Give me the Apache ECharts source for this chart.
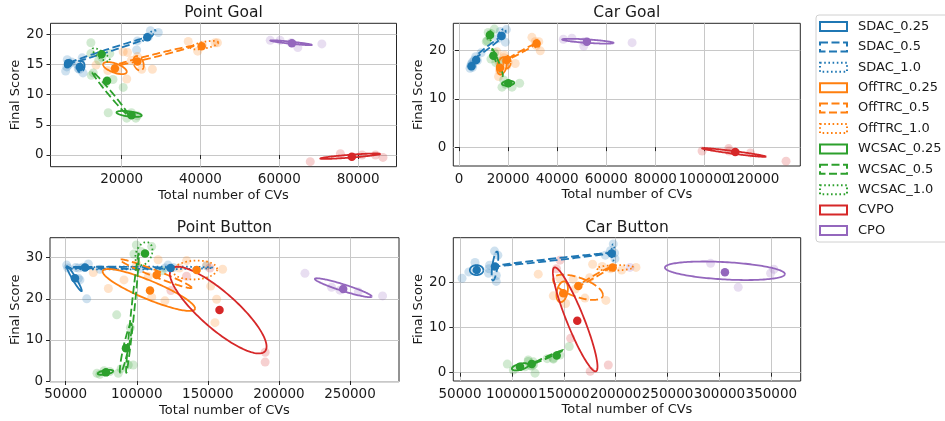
<!DOCTYPE html>
<html><head><meta charset="utf-8">
<script src="https://cdn.jsdelivr.net/npm/echarts@6/dist/echarts.min.js"></script>
<style>html,body{margin:0;padding:0;background:#fff}#c{width:945px;height:421px}</style>
</head><body><div id="c"></div>
<script>
// ---------- configuration names ----------
const configs = ['SDAC_0.25','SDAC_0.5','SDAC_1.0','OffTRC_0.25','OffTRC_0.5','OffTRC_1.0','WCSAC_0.25','WCSAC_0.5','WCSAC_1.0','CVPO','CPO'];
const panelTitles = ['Point Goal','Car Goal','Point Button','Car Button'];
const xAxisTitle = 'Total number of CVs';
const yAxisTitle = 'Final Score';

// ---------- axis ranges & ticks ----------
const pointGoalXRange = [1957, 89733];   const pointGoalYRange = [-1.94, 21.82];
const carGoalXRange = [-2320, 139000];   const carGoalYRange = [-3.9, 25.6];
const pointButtonXRange = [38960, 284460]; const pointButtonYRange = [-0.17, 34.87];
const carButtonXRange = [43545, 378320]; const carButtonYRange = [-1.84, 29.87];
const pointGoalXTicks = [20000, 40000, 60000, 80000];
const pointGoalYTicks = [0, 5, 10, 15, 20];
const carGoalXTicks = [0, 20000, 40000, 60000, 80000, 100000, 120000];
const carGoalYTicks = [0, 10, 20];
const pointButtonXTicks = [50000, 100000, 150000, 200000, 250000];
const pointButtonYTicks = [0, 10, 20, 30];
const carButtonXTicks = [50000, 100000, 150000, 200000, 250000, 300000, 350000];
const carButtonYTicks = [0, 10, 20];

// ---------- Point Goal ----------
const pointGoalSeeds = [
  ['SDAC_0.25',5800,13.9],['SDAC_0.25',6200,15.8],['SDAC_0.25',6600,15.0],['SDAC_0.25',7300,15.4],['SDAC_0.25',6100,14.6],
  ['SDAC_0.5',10000,16.1],['SDAC_0.5',10200,13.6],['SDAC_0.5',9000,14.3],['SDAC_0.5',8700,15.0],['SDAC_0.5',9300,14.2],
  ['SDAC_1.0',23800,17.4],['SDAC_1.0',24000,18.9],['SDAC_1.0',27300,20.6],['SDAC_1.0',29300,20.3],['SDAC_1.0',26800,19.6],
  ['OffTRC_0.25',13500,14.9],['OffTRC_0.25',16500,14.0],['OffTRC_0.25',19000,14.0],['OffTRC_0.25',21300,12.6],['OffTRC_0.25',20400,17.1],
  ['OffTRC_0.5',22500,15.7],['OffTRC_0.5',25100,14.2],['OffTRC_0.5',27800,14.2],['OffTRC_0.5',24000,16.3],['OffTRC_0.5',21500,17.0],
  ['OffTRC_1.0',36900,18.8],['OffTRC_1.0',39300,17.2],['OffTRC_1.0',40500,18.2],['OffTRC_1.0',43700,18.6],['OffTRC_1.0',44300,18.6],
  ['WCSAC_0.25',16600,7.0],['WCSAC_0.25',21300,6.1],['WCSAC_0.25',23600,6.1],['WCSAC_0.25',22500,7.0],['WCSAC_0.25',24000,6.5],
  ['WCSAC_0.5',12300,13.2],['WCSAC_0.5',12800,13.6],['WCSAC_0.5',17800,12.5],['WCSAC_0.5',20400,11.2],['WCSAC_0.5',16000,12.0],
  ['WCSAC_1.0',12200,18.6],['WCSAC_1.0',12200,16.8],['WCSAC_1.0',14200,15.7],['WCSAC_1.0',17000,16.8],['WCSAC_1.0',15000,16.2],
  ['CVPO',67850,-1.1],['CVPO',75500,0.2],['CVPO',81000,0.0],['CVPO',84400,0.0],['CVPO',86300,-0.4],
  ['CPO',57700,19.0],['CPO',60200,19.0],['CPO',64700,17.8],['CPO',70800,18.4],['CPO',63000,18.6]
];
const pointGoalMeans = [
  ['SDAC_0.25',6430,15.2],['SDAC_0.5',9400,14.6],['SDAC_1.0',26500,19.5],
  ['OffTRC_0.25',18300,14.35],['OffTRC_0.5',24000,15.5],['OffTRC_1.0',40300,18.0],
  ['WCSAC_0.25',22500,6.6],['WCSAC_0.5',16300,12.3],['WCSAC_1.0',14900,16.7],
  ['CVPO',78400,-0.3],['CPO',63200,18.5]
];
// [config, centreX, centreY, halfWidthX, halfHeightY, correlation]
const pointGoalEllipses = [
  ['SDAC_0.25',6500,15.1,900,0.6,0.4],
  ['SDAC_0.5',17000,17.4,11000,2.35,0.995],['SDAC_0.5',9700,14.6,900,0.9,0.2],
  ['SDAC_1.0',27000,19.8,1600,0.9,0.9],
  ['OffTRC_0.25',18300,14.4,3000,1.0,-0.6],
  ['OffTRC_0.5',28000,16.4,10300,1.7,0.99],['OffTRC_0.5',24300,15.2,1300,1.2,-0.3],
  ['OffTRC_1.0',41000,18.2,3500,0.7,0.6],
  ['WCSAC_0.25',21900,6.8,3200,0.5,-0.5],
  ['WCSAC_0.5',17100,10.2,4600,3.6,-0.99],
  ['WCSAC_1.0',14800,16.6,2200,1.1,-0.8],
  ['CVPO',78000,-0.2,7600,0.45,0.85],
  ['CPO',63000,18.6,5300,0.4,-0.9]
];

// ---------- Car Goal ----------
const carGoalSeeds = [
  ['SDAC_0.25',4500,16.3],['SDAC_0.25',5000,17.2],['SDAC_0.25',5500,16.5],['SDAC_0.25',4800,16.8],['SDAC_0.25',5600,17.0],
  ['SDAC_0.5',6200,18.0],['SDAC_0.5',6800,18.7],['SDAC_0.5',7500,17.9],['SDAC_0.5',5500,17.6],['SDAC_0.5',9000,19.5],
  ['SDAC_1.0',19300,24.3],['SDAC_1.0',18900,21.7],['SDAC_1.0',16800,23.9],['SDAC_1.0',17500,23.0],['SDAC_1.0',15800,22.4],
  ['OffTRC_0.25',15500,19.7],['OffTRC_0.25',16100,14.6],['OffTRC_0.25',17000,16.0],['OffTRC_0.25',18200,18.5],['OffTRC_0.25',16500,15.8],
  ['OffTRC_0.5',22900,17.3],['OffTRC_0.5',20000,17.5],['OffTRC_0.5',19500,16.8],['OffTRC_0.5',18500,19.0],['OffTRC_0.5',16000,17.8],
  ['OffTRC_1.0',29700,22.7],['OffTRC_1.0',33100,19.9],['OffTRC_1.0',31500,21.0],['OffTRC_1.0',32500,21.8],['OffTRC_1.0',31000,21.8],
  ['WCSAC_0.25',17500,12.4],['WCSAC_0.25',21600,12.4],['WCSAC_0.25',24700,13.2],['WCSAC_0.25',18200,13.9],['WCSAC_0.25',19000,13.0],
  ['WCSAC_0.5',13000,18.2],['WCSAC_0.5',11100,21.8],['WCSAC_0.5',14500,19.5],['WCSAC_0.5',15000,17.5],['WCSAC_0.5',16500,17.8],
  ['WCSAC_1.0',14400,24.4],['WCSAC_1.0',11900,23.7],['WCSAC_1.0',12500,22.8],['WCSAC_1.0',11500,22.0],['WCSAC_1.0',13000,23.5],
  ['CVPO',99000,-0.8],['CVPO',109800,-0.3],['CVPO',118700,-1.2],['CVPO',133200,-2.9],['CVPO',110000,-0.8],
  ['CPO',46000,22.5],['CPO',50800,20.9],['CPO',70500,21.6],['CPO',51000,21.8],['CPO',42500,22.3]
];
const carGoalMeans = [
  ['SDAC_0.25',5100,16.7],['SDAC_0.5',7000,18.0],['SDAC_1.0',17300,23.0],
  ['OffTRC_0.25',16700,16.4],['OffTRC_0.5',19400,18.0],['OffTRC_1.0',31600,21.4],
  ['WCSAC_0.25',20100,13.2],['WCSAC_0.5',14000,18.9],['WCSAC_1.0',12600,23.2],
  ['CVPO',112500,-1.0],['CPO',52100,21.8]
];
const carGoalEllipses = [
  ['SDAC_0.25',5100,16.8,900,0.5,0.5],
  ['SDAC_0.5',12300,20.8,5800,2.25,0.99],
  ['SDAC_1.0',17500,23.4,1500,1.0,0.5],
  ['OffTRC_0.25',17500,16.8,2000,1.8,0.3],
  ['OffTRC_0.5',25500,19.75,5450,1.55,0.99],['OffTRC_0.5',19500,17.6,1500,1.3,0.0],
  ['OffTRC_1.0',31700,21.3,1000,0.8,0.0],
  ['WCSAC_0.25',20000,13.2,2500,0.5,0.2],
  ['WCSAC_0.5',15700,17.5,2200,2.8,-0.97],
  ['WCSAC_1.0',12700,23.0,1100,1.0,0.3],
  ['CVPO',112000,-1.1,13000,0.9,-0.95],
  ['CPO',52500,21.9,10500,0.5,-0.7]
];

// ---------- Point Button ----------
const pointButtonSeeds = [
  ['SDAC_0.25',50700,28.2],['SDAC_0.25',58900,25.0],['SDAC_0.25',60000,24.6],['SDAC_0.25',64800,20.0],['SDAC_0.25',51500,27.5],
  ['SDAC_0.5',62000,27.7],['SDAC_0.5',65900,28.5],['SDAC_0.5',74100,27.2],['SDAC_0.5',59000,27.5],['SDAC_0.5',57000,27.6],
  ['SDAC_1.0',122000,28.2],['SDAC_1.0',125700,27.6],['SDAC_1.0',149000,28.0],['SDAC_1.0',120000,27.5],['SDAC_1.0',102000,27.3],
  ['OffTRC_0.25',69400,26.4],['OffTRC_0.25',91000,24.6],['OffTRC_0.25',110500,20.4],['OffTRC_0.25',119800,19.5],['OffTRC_0.25',155000,14.2],
  ['OffTRC_0.5',108100,25.4],['OffTRC_0.5',100000,28.5],['OffTRC_0.5',135100,29.3],['OffTRC_0.5',152000,23.1],['OffTRC_0.5',80000,22.5],
  ['OffTRC_1.0',149200,28.2],['OffTRC_1.0',160400,27.2],['OffTRC_1.0',156200,19.9],['OffTRC_1.0',130000,27.5],['OffTRC_1.0',115000,29.5],
  ['WCSAC_0.25',72000,1.9],['WCSAC_0.25',74000,1.6],['WCSAC_0.25',81000,2.3],['WCSAC_0.25',87000,1.9],['WCSAC_0.25',77000,2.5],
  ['WCSAC_0.5',85900,16.1],['WCSAC_0.5',94000,3.9],['WCSAC_0.5',97500,3.9],['WCSAC_0.5',95500,13.0],['WCSAC_0.5',89000,3.0],
  ['WCSAC_1.0',98000,30.9],['WCSAC_1.0',99700,33.1],['WCSAC_1.0',110500,32.7],['WCSAC_1.0',103000,31.5],['WCSAC_1.0',117800,26.8],
  ['CVPO',151500,27.5],['CVPO',190300,7.0],['CVPO',190300,4.6],['CVPO',135000,25.5],['CVPO',124000,22.0],
  ['CPO',218300,26.2],['CPO',242900,22.1],['CPO',272900,20.7],['CPO',237000,22.8],['CPO',255800,21.7]
];
const pointButtonMeans = [
  ['SDAC_0.25',56500,25.0],['SDAC_0.5',63600,27.6],['SDAC_1.0',123800,27.5],
  ['OffTRC_0.25',109300,22.0],['OffTRC_0.5',114000,25.8],['OffTRC_1.0',142100,27.0],
  ['WCSAC_0.25',78300,2.1],['WCSAC_0.5',92400,7.95],['WCSAC_1.0',105800,31.0],
  ['CVPO',158200,17.3],['CPO',245200,22.4]
];
const pointButtonEllipses = [
  ['SDAC_0.25',56000,24.9,5300,3.05,-0.96],
  ['SDAC_0.5',88000,27.55,37500,0.25,-0.3],
  ['SDAC_1.0',102000,27.5,51500,0.35,0.2],
  ['OffTRC_0.25',108500,22.15,32500,5.1,-0.88],
  ['OffTRC_0.5',113400,26.1,25200,3.5,-0.97],
  ['OffTRC_1.0',141000,27.0,15500,2.3,0.1],
  ['WCSAC_0.25',78000,2.1,5500,0.6,0.5],
  ['WCSAC_0.5',97000,16.5,4500,14.5,0.97],['WCSAC_0.5',92300,8.0,4200,6.0,0.9],
  ['WCSAC_1.0',105000,31.0,6000,2.8,0.3],
  ['CVPO',157300,17.25,34000,10.55,-0.84],
  ['CPO',245300,22.7,20000,2.3,-0.93]
];

// ---------- Car Button ----------
const carButtonSeeds = [
  ['SDAC_0.25',52000,20.9],['SDAC_0.25',58500,22.3],['SDAC_0.25',64500,24.4],['SDAC_0.25',78000,23.0],['SDAC_0.25',77500,22.0],
  ['SDAC_0.5',83300,26.9],['SDAC_0.5',84900,20.2],['SDAC_0.5',78500,23.8],['SDAC_0.5',86500,26.0],['SDAC_0.5',85000,21.5],
  ['SDAC_1.0',197700,28.5],['SDAC_1.0',199300,25.2],['SDAC_1.0',195000,27.0],['SDAC_1.0',199000,26.5],['SDAC_1.0',190000,26.0],
  ['OffTRC_0.25',139900,17.0],['OffTRC_0.25',151800,15.3],['OffTRC_0.25',146300,20.9],['OffTRC_0.25',148000,16.5],['OffTRC_0.25',161000,18.5],
  ['OffTRC_0.5',125400,21.8],['OffTRC_0.5',159100,20.7],['OffTRC_0.5',170400,16.5],['OffTRC_0.5',190600,16.0],['OffTRC_0.5',175000,21.0],
  ['OffTRC_1.0',177800,24.0],['OffTRC_1.0',205800,22.7],['OffTRC_1.0',219600,23.3],['OffTRC_1.0',195000,23.0],['OffTRC_1.0',187000,23.5],
  ['WCSAC_0.25',95600,1.9],['WCSAC_0.25',101400,0.6],['WCSAC_0.25',112600,1.3],['WCSAC_0.25',115800,2.8],['WCSAC_0.25',122300,-0.1],
  ['WCSAC_0.5',115800,2.5],['WCSAC_0.5',120600,2.4],['WCSAC_0.5',118000,1.5],['WCSAC_0.5',121000,1.8],['WCSAC_0.5',119500,1.5],
  ['WCSAC_1.0',139900,3.2],['WCSAC_1.0',146300,3.9],['WCSAC_1.0',155300,5.8],['WCSAC_1.0',140000,3.0],['WCSAC_1.0',134000,3.1],
  ['CVPO',146300,24.9],['CVPO',156600,7.6],['CVPO',192900,1.7],['CVPO',175500,0.3],['CVPO',143000,23.0],
  ['CPO',291500,24.2],['CPO',318100,18.9],['CPO',349300,22.0],['CPO',352500,22.9],['CPO',213800,23.3]
];
const carButtonMeans = [
  ['SDAC_0.25',66100,22.7],['SDAC_0.5',83700,23.5],['SDAC_1.0',196200,26.4],
  ['OffTRC_0.25',149500,17.6],['OffTRC_0.5',164000,19.2],['OffTRC_1.0',197100,23.3],
  ['WCSAC_0.25',107800,1.3],['WCSAC_0.5',119100,1.9],['WCSAC_1.0',143200,3.8],
  ['CVPO',163000,11.5],['CPO',305300,22.2]
];
const carButtonEllipses = [
  ['SDAC_0.25',66000,22.7,6500,1.1,0.0],
  ['SDAC_0.5',138300,25.0,59400,1.55,0.99],['SDAC_0.5',83700,23.6,3200,3.2,0.6],
  ['SDAC_1.0',197500,26.6,1500,1.8,0.0],
  ['OffTRC_0.25',148500,17.9,5500,2.3,0.3],
  ['OffTRC_0.5',163700,18.9,24000,2.8,-0.6],['OffTRC_0.5',179300,21.25,15300,2.05,0.99],
  ['OffTRC_1.0',199300,23.2,17500,0.6,0.2],
  ['WCSAC_0.25',108000,1.3,8000,0.8,0.5],
  ['WCSAC_0.5',134900,3.5,14600,1.5,0.99],
  ['WCSAC_1.0',120000,2.0,2500,0.7,0.3],
  ['CVPO',161000,11.8,21500,11.5,-0.91],
  ['CPO',305300,22.55,57800,2.05,-0.35]
];

// ---------- styling (not data) ----------
const familyColor = {SDAC:'#1f77b4', OffTRC:'#ff7f0e', WCSAC:'#2ca02c', CVPO:'#d62728', CPO:'#9467bd'};
const dashDashed = [8, 3.5], dashDotted = [1.6, 2.6];
function cfgColor(n){ return familyColor[n.split('_')[0]]; }
function cfgDash(n){ if (n.endsWith('_0.5')) return dashDashed; if (n.endsWith('_1.0')) return dashDotted; return null; }
const FONT = 'DejaVu Sans';
const TXT = '#1a1a1a';

const panels = [
  {title:panelTitles[0], seeds:pointGoalSeeds, means:pointGoalMeans, ell:pointGoalEllipses, xr:pointGoalXRange, yr:pointGoalYRange, xt:pointGoalXTicks, yt:pointGoalYTicks, grid:{left:50.5,top:23.3,width:346,height:143.4}},
  {title:panelTitles[1], seeds:carGoalSeeds, means:carGoalMeans, ell:carGoalEllipses, xr:carGoalXRange, yr:carGoalYRange, xt:carGoalXTicks, yt:carGoalYTicks, grid:{left:453.3,top:23.3,width:347,height:142.7}},
  {title:panelTitles[2], seeds:pointButtonSeeds, means:pointButtonMeans, ell:pointButtonEllipses, xr:pointButtonXRange, yr:pointButtonYRange, xt:pointButtonXTicks, yt:pointButtonYTicks, grid:{left:50,top:237.7,width:349,height:144}},
  {title:panelTitles[3], seeds:carButtonSeeds, means:carButtonMeans, ell:carButtonEllipses, xr:carButtonXRange, yr:carButtonYRange, xt:carButtonXTicks, yt:carButtonYTicks, grid:{left:453.3,top:237.7,width:347.4,height:143.3}}
];

function makeRender(color, dash){
  return function(params, api){
    const cx = api.value(0), cy = api.value(1), sx = api.value(2), sy = api.value(3), r = api.value(4);
    const k = Math.sqrt(Math.max(0, 1 - r*r));
    const pts = [];
    const N = 160;
    for (let i = 0; i <= N; i++){
      const t = i / N * 2 * Math.PI;
      pts.push(api.coord([cx + sx*Math.cos(t), cy + sy*(r*Math.cos(t) + k*Math.sin(t))]));
    }
    return {type:'polyline', shape:{points:pts}, style:{stroke:color, fill:null, lineWidth:1.8, lineDash:dash || null}};
  };
}

const series = [];
panels.forEach((P, p) => {
  configs.forEach(name => {
    const color = cfgColor(name);
    series.push({
      name, type:'scatter', xAxisIndex:p, yAxisIndex:p, silent:true, symbol:'circle', symbolSize:9, z:2,
      itemStyle:{color, opacity:0.22},
      data: P.seeds.filter(d => d[0] === name).map(d => [d[1], d[2]])
    });
  });
  configs.forEach(name => {
    const color = cfgColor(name), dash = cfgDash(name);
    series.push({
      name, type:'custom', xAxisIndex:p, yAxisIndex:p, silent:true, z:3,
      dimensions:['cx','cy','sx','sy','rho'], encode:{x:0, y:1},
      renderItem: makeRender(color, dash),
      data: P.ell.filter(d => d[0] === name).map(d => d.slice(1))
    });
    series.push({
      name, type:'scatter', xAxisIndex:p, yAxisIndex:p, silent:true, symbol:'circle', symbolSize:8.5, z:4,
      itemStyle:{color, opacity:1},
      data: P.means.filter(d => d[0] === name).map(d => [d[1], d[2]])
    });
  });
});

const xAxes = panels.map((P, p) => ({
  gridIndex:p, type:'value', min:P.xr[0], max:P.xr[1], position:'bottom',
  name:xAxisTitle, nameLocation:'middle', nameGap:22,
  nameTextStyle:{fontSize:13, color:TXT, fontFamily:FONT},
  axisLine:{show:false},
  axisTick:{show:true, length:4, lineStyle:{color:'#262626'}, customValues:P.xt},
  axisLabel:{customValues:P.xt, fontSize:13.5, color:TXT, margin:6, hideOverlap:false, fontFamily:FONT, formatter:v => String(v)},
  splitLine:{show:true, lineStyle:{color:'#c8c8c8', width:1}}
}));
// the Car Goal labels touch each other; a second label row on the same axis range keeps the last one visible
const carGoalLastLabel = [carGoalXTicks[carGoalXTicks.length - 1]];
xAxes.push({
  gridIndex:1, type:'value', min:carGoalXRange[0], max:carGoalXRange[1], position:'bottom', offset:0,
  axisLine:{show:false}, axisTick:{show:false, customValues:carGoalLastLabel}, splitLine:{show:false},
  axisLabel:{customValues:carGoalLastLabel, fontSize:13.5, color:TXT, margin:6, hideOverlap:false, fontFamily:FONT, formatter:v => String(v)}
});

const option = {
  animation:false,
  textStyle:{fontFamily:FONT},
  title: panels.map(P => ({
    text:P.title, left:P.grid.left + P.grid.width/2, top:P.grid.top - 18, textAlign:'center', padding:0,
    textStyle:{fontSize:15.5, fontWeight:'normal', color:TXT, fontFamily:FONT}
  })),
  grid: panels.map(P => ({left:P.grid.left, top:P.grid.top, width:P.grid.width, height:P.grid.height, show:true, borderColor:'#262626', borderWidth:1, backgroundColor:'transparent', containLabel:false})),
  xAxis: xAxes,
  yAxis: panels.map((P, p) => ({
    gridIndex:p, type:'value', min:P.yr[0], max:P.yr[1],
    name:yAxisTitle, nameLocation:'middle', nameGap:27,
    nameTextStyle:{fontSize:13, color:TXT, fontFamily:FONT},
    axisLine:{show:false},
    axisTick:{show:true, length:4, lineStyle:{color:'#262626'}, customValues:P.yt},
    axisLabel:{customValues:P.yt, fontSize:13.5, color:TXT, margin:7, hideOverlap:false, fontFamily:FONT, formatter:v => String(v)},
    splitLine:{show:true, lineStyle:{color:'#c8c8c8', width:1}}
  })),
  legend: {
    orient:'vertical', left:816, top:15, itemWidth:27, itemHeight:9, itemGap:7.4,
    padding:[5, 8, 5, 3], borderColor:'#d0d0d0', borderWidth:1, borderRadius:3, backgroundColor:'#fff',
    selectedMode:false,
    textStyle:{fontSize:13, color:TXT, fontFamily:FONT, padding:[0,0,0,6]},
    data: configs.map(n => ({name:n, icon:'rect', itemStyle:{color:'rgba(255,255,255,0)', opacity:1, borderColor:cfgColor(n), borderWidth:2, borderType: cfgDash(n) || 'solid'}}))
  },
  series
};
const chart = echarts.init(document.getElementById('c'), null, {renderer:'canvas'});
chart.setOption(option);
</script></body></html>
